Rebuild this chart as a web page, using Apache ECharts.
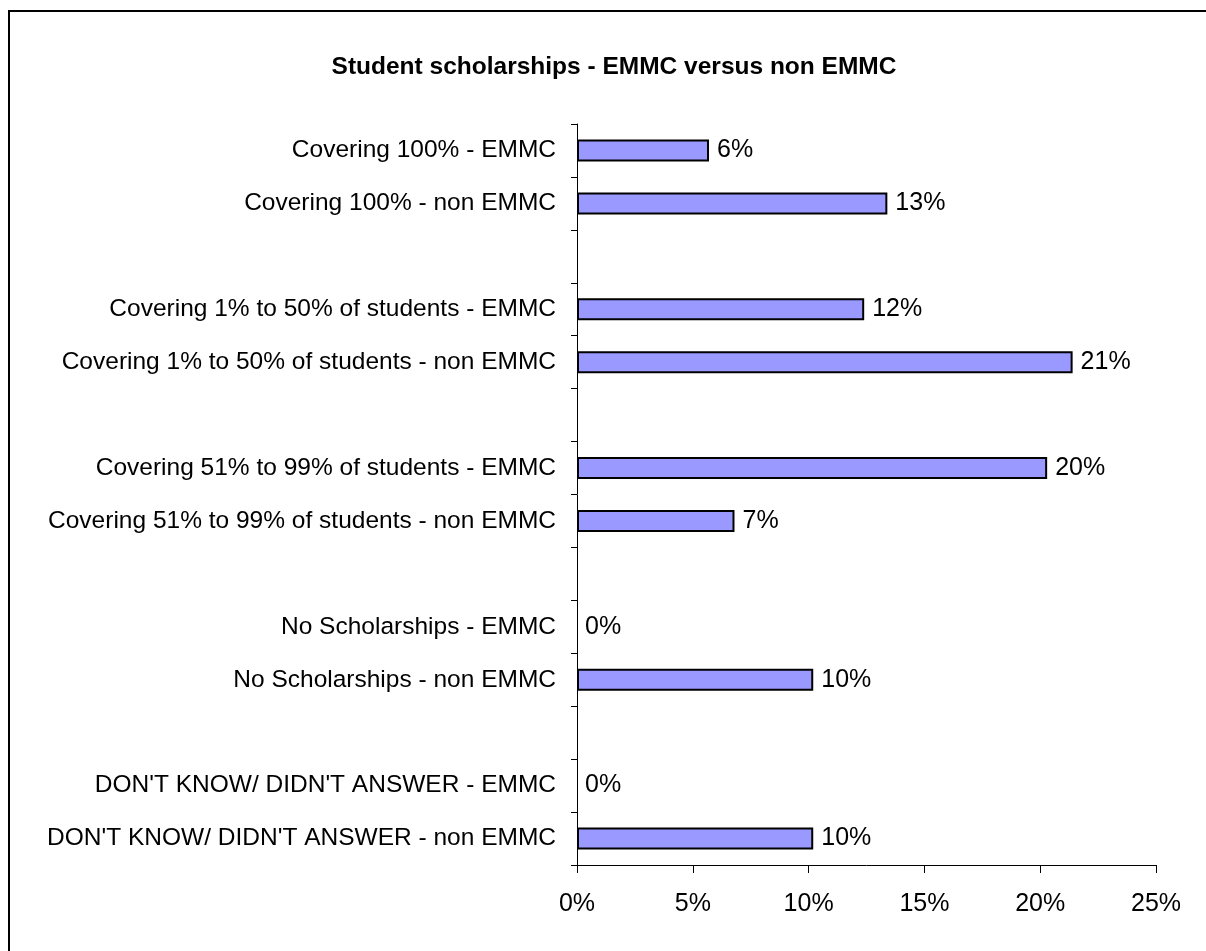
<!DOCTYPE html>
<html>
<head>
<meta charset="utf-8">
<script src="https://cdn.jsdelivr.net/npm/echarts@6/dist/echarts.min.js"></script>
<style>
  body { margin: 0; background: #fff; }
  #chart { width: 1206px; height: 951px; }
</style>
</head>
<body>
<div id="chart"></div>
<script>
// answer groups, top to bottom
const groups = ['Covering 100%', 'Covering 1% to 50% of students', 'Covering 51% to 99% of students', 'No Scholarships', "DON'T KNOW/ DIDN'T ANSWER"]
const emmcValues = [5.7, 12.4, 20.3, 0, 0]
const nonEmmcValues = [13.4, 21.4, 6.8, 10.2, 10.2]
const xTicks = [0, 5, 10, 15, 20, 25]

// zero bars get no outline so they don't thicken the axis line
const point = v => v === 0 ? { value: 0, itemStyle: { borderWidth: 0 } } : v

// build rows: EMMC, non EMMC, then an empty gap row between groups
var categories = [], values = []
groups.forEach((g, i) => {
  if(i > 0) { categories.push(' '.repeat(i)); values.push('-') }
  categories.push(g + ' - EMMC'); values.push(point(emmcValues[i]))
  categories.push(g + ' - non EMMC'); values.push(point(nonEmmcValues[i]))
})

const font = '"Liberation Sans", Arial, sans-serif'
const chart = echarts.init(document.getElementById('chart'))
chart.setOption({
  animation: false,
  textStyle: { fontFamily: font, color: '#000' },
  graphic: [
    { type: 'rect', shape: { x: 9, y: 11, width: 1400, height: 1200 }, style: { fill: 'none', stroke: '#000', lineWidth: 2 }, silent: true },
    { type: 'text', x: 614, y: 55, style: { text: 'Student scholarships - EMMC versus non EMMC', font: 'bold 24.5px ' + font, fill: '#000', align: 'center', verticalAlign: 'top' } }
  ],
  grid: { left: 577, right: 50, top: 124, bottom: 86, containLabel: false },
  xAxis: {
    type: 'value',
    min: xTicks[0], max: xTicks[xTicks.length - 1], interval: 5,
    axisLine: { show: true, lineStyle: { color: '#000', width: 1 } },
    axisTick: { show: true, length: 8, lineStyle: { color: '#000' } },
    splitLine: { show: false },
    axisLabel: { formatter: '{value}%', fontSize: 25, color: '#000', margin: 27, fontFamily: font }
  },
  yAxis: {
    type: 'category',
    inverse: true,
    data: categories,
    axisLine: { show: true, lineStyle: { color: '#000', width: 1 } },
    axisTick: { show: true, length: 6, interval: 0, lineStyle: { color: '#000' } },
    axisLabel: { interval: 0, fontSize: 24.5, color: '#000', margin: 21, fontFamily: font }
  },
  series: [{
    type: 'bar',
    data: values,
    barWidth: 22,
    itemStyle: { color: '#9999FF', borderColor: '#000', borderWidth: 2 },
    label: {
      show: true, position: 'right', distance: 8,
      fontSize: 25, color: '#000', fontFamily: font,
      formatter: p => Math.round(p.value) + '%'
    }
  }]
})
</script>
</body>
</html>
